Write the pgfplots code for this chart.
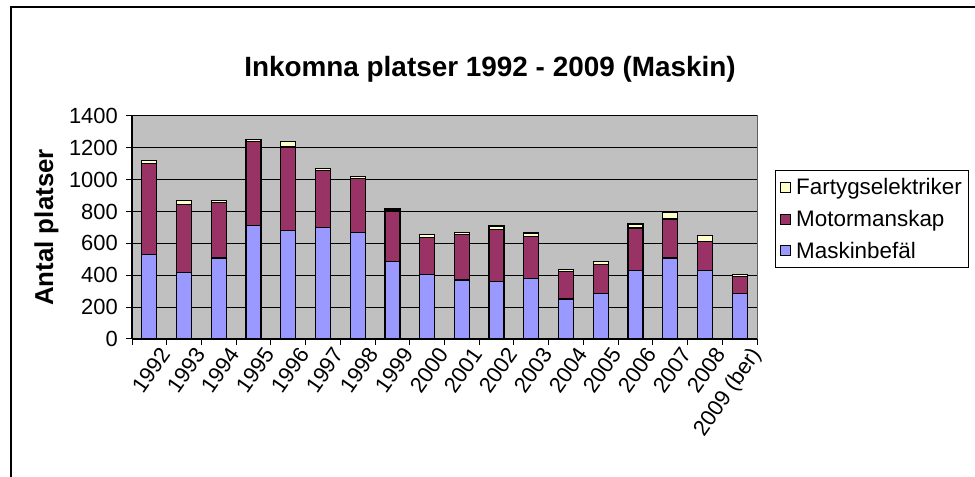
\documentclass[border=0pt]{standalone}
\usepackage{fontspec}
\setmainfont{Liberation Sans}
\usepackage{pgfplots}
\pgfplotsset{compat=1.18}
\usepackage{pgfplotstable}
\definecolor{plotgray}{HTML}{C0C0C0}
\definecolor{mblue}{HTML}{9999FF}
\definecolor{mmaroon}{HTML}{993366}
\definecolor{mcream}{HTML}{FFFFCC}
\pgfplotstableread{
x Maskin Motor Fartyg
0 530 570 20
1 415 430 25
2 508 350 12
3 710 530 12
4 680 525 35
5 700 360 12
6 667 340 12
7 487 317 12
8 403 232 22
9 370 288 10
10 359 330 20
11 380 265 20
12 251 173 10
13 284 182 20
14 432 265 25
15 508 245 44
16 432 182 34
17 284 107 12
}\datatable
\begin{document}
\begin{tikzpicture}[x=1bp,y=1bp]
\path[use as bounding box] (0,0) rectangle (975,477);
\draw[line width=2bp] (11,0) -- (11,470) -- (975,470);
\node[font=\fontsize{28}{32}\selectfont\bfseries] at (490,408) {Inkomna platser 1992 - 2009 (Maskin)};
\begin{axis}[
  at={(132bp,138bp)}, anchor=south west,
  scale only axis, width=625bp, height=223bp,
  ybar stacked, bar width=15bp,
  xmin=-0.5, xmax=17.5, ymin=0, ymax=1400,
  ytick={0,200,...,1400},
  xtick={0,...,17},
  xticklabels={1992,1993,1994,1995,1996,1997,1998,1999,2000,2001,2002,2003,2004,2005,2006,2007,2008,2009 (ber)},
  minor xtick={-0.5,0.5,...,17.5},
  x tick style={draw=none},
  minor x tick style={draw=black, line width=1bp},
  y tick style={draw=black, line width=1bp},
  tick align=outside,
  major tick length=6bp, minor tick length=6bp,
  ymajorgrids, major grid style={black, line width=1bp},
  axis x line*=bottom, axis y line*=left,
  axis line style={black, line width=1.2bp, -},
  axis background/.style={fill=plotgray, draw=gray!75!black, line width=1bp},
  /pgf/number format/assume math mode=true,
  /pgf/number format/1000 sep={},
  ticklabel style={font=\fontsize{22}{26}\selectfont},
  yticklabel style={inner sep=0pt, xshift=-8bp},
  xticklabel style={rotate=55, anchor=north east, inner sep=0pt, yshift=-8bp, xshift=5bp},
  ylabel={Antal platser},
  ylabel style={font=\fontsize{26}{30}\selectfont\bfseries, at={(axis description cs:-0.137,0.5)}, anchor=center},
  legend style={at={(rel axis cs:1.0288,0.757)}, anchor=north west, draw=black, line width=0.8bp,
    font=\fontsize{22.5}{26}\selectfont, row sep=10bp, inner xsep=5bp, inner ysep=6bp,
    /tikz/every odd column/.append style={column sep=3bp}},
  legend cell align=left,
  reverse legend,
  legend image code/.code={\draw[#1, draw=black, line width=0.8bp] (0bp,-5bp) rectangle (10bp,5bp);},
]
\addplot[fill=mblue, draw=black, line width=1.2bp] table[x=x, y=Maskin] {\datatable};
\addlegendentry{Maskinbefäl}
\addplot[fill=mmaroon, draw=black, line width=1.2bp] table[x=x, y=Motor] {\datatable};
\addlegendentry{Motormanskap}
\addplot[fill=mcream, draw=black, line width=1.2bp] table[x=x, y=Fartyg] {\datatable};
\addlegendentry{Fartygselektriker}
\end{axis}
\end{tikzpicture}
\end{document}
